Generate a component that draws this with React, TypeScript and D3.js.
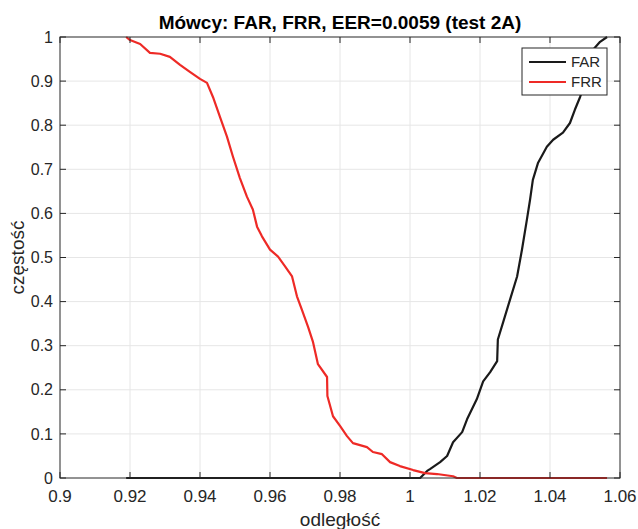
import * as d3 from 'd3';
import React, { useEffect, useRef } from 'react';

// FRR curve (odległość, częstość)
const frrX = [0.9189, 0.92, 0.9229, 0.9257, 0.9286, 0.9314, 0.9343, 0.9371, 0.94, 0.942, 0.9437, 0.9457, 0.9477, 0.9494, 0.9514, 0.9534, 0.9551, 0.9563, 0.9577, 0.96, 0.9623, 0.9643, 0.9663, 0.9677, 0.9691, 0.9709, 0.9723, 0.9737, 0.9763, 0.9764, 0.978, 0.98, 0.982, 0.9837, 0.9877, 0.9894, 0.992, 0.9943, 0.9971, 1.0009, 1.0043, 1.0077, 1.0123, 1.0134, 1.0563];
const frrY = [1.0, 0.993, 0.984, 0.964, 0.962, 0.955, 0.937, 0.921, 0.905, 0.896, 0.864, 0.819, 0.774, 0.729, 0.68, 0.638, 0.609, 0.57, 0.548, 0.518, 0.502, 0.48, 0.457, 0.412, 0.382, 0.342, 0.308, 0.258, 0.229, 0.186, 0.14, 0.118, 0.095, 0.079, 0.07, 0.059, 0.054, 0.036, 0.027, 0.018, 0.011, 0.009, 0.004, 0, 0];

// FAR curve
const farX = [0.9189, 1.0029, 1.0049, 1.0057, 1.0086, 1.0106, 1.0123, 1.0149, 1.0163, 1.0191, 1.0209, 1.0229, 1.0249, 1.0251, 1.0266, 1.0286, 1.0306, 1.032, 1.0334, 1.0343, 1.0351, 1.0366, 1.0391, 1.0409, 1.0437, 1.0457, 1.0471, 1.0486, 1.0506, 1.0523, 1.0543, 1.0563];
const farY = [0, 0, 0.016, 0.02, 0.036, 0.05, 0.081, 0.104, 0.133, 0.179, 0.219, 0.24, 0.265, 0.314, 0.353, 0.405, 0.457, 0.518, 0.586, 0.631, 0.676, 0.715, 0.751, 0.767, 0.783, 0.805, 0.835, 0.864, 0.91, 0.971, 0.989, 1.0];

const xTicks = [0.9, 0.92, 0.94, 0.96, 0.98, 1, 1.02, 1.04, 1.06];
const yTicks = [0, 0.1, 0.2, 0.3, 0.4, 0.5, 0.6, 0.7, 0.8, 0.9, 1];

const series = [
    { name: 'FAR', xs: farX, ys: farY, color: '#1a1a1a' },
    { name: 'FRR', xs: frrX, ys: frrY, color: '#ee2a26' },
];

const App = () => {
    const ref = useRef(null);

    useEffect(() => {
        const svg = d3.select(ref.current);
        svg.selectAll('*').remove();

        const left = 60, right = 620, top = 37, bottom = 478;
        const font = "'Liberation Sans', Arial, Helvetica, sans-serif";
        const axisColor = '#262626';

        const x = d3.scaleLinear().domain([0.9, 1.06]).range([left, right]);
        const y = d3.scaleLinear().domain([0, 1]).range([bottom, top]);

        svg.append('rect')
            .attr('x', left).attr('y', top)
            .attr('width', right - left).attr('height', bottom - top)
            .attr('fill', '#fff');

        // grid
        const grid = svg.append('g').attr('stroke', '#e6e6e6').attr('stroke-width', 1);
        xTicks.slice(1, -1).forEach(t => {
            grid.append('line').attr('x1', x(t)).attr('x2', x(t)).attr('y1', top).attr('y2', bottom);
        });
        yTicks.slice(1, -1).forEach(t => {
            grid.append('line').attr('x1', left).attr('x2', right).attr('y1', y(t)).attr('y2', y(t));
        });

        // curves
        const line = d3.line().x(d => x(d[0])).y(d => y(d[1]));
        series.forEach(s => {
            svg.append('path')
                .datum(s.xs.map((v, i) => [v, s.ys[i]]))
                .attr('d', line)
                .attr('fill', 'none')
                .attr('stroke', s.color)
                .attr('stroke-width', 2.2)
                .attr('stroke-linejoin', 'round');
        });

        // box and ticks
        svg.append('rect')
            .attr('x', left).attr('y', top)
            .attr('width', right - left).attr('height', bottom - top)
            .attr('fill', 'none').attr('stroke', axisColor).attr('stroke-width', 1);

        const tl = 6;
        const ticks = svg.append('g').attr('stroke', axisColor).attr('stroke-width', 1);
        xTicks.forEach(t => {
            ticks.append('line').attr('x1', x(t)).attr('x2', x(t)).attr('y1', bottom).attr('y2', bottom - tl);
            ticks.append('line').attr('x1', x(t)).attr('x2', x(t)).attr('y1', top).attr('y2', top + tl);
        });
        yTicks.forEach(t => {
            ticks.append('line').attr('x1', left).attr('x2', left + tl).attr('y1', y(t)).attr('y2', y(t));
            ticks.append('line').attr('x1', right).attr('x2', right - tl).attr('y1', y(t)).attr('y2', y(t));
        });

        const fmt = d3.format('~g');
        svg.append('g').selectAll('text').data(xTicks).enter().append('text')
            .attr('x', d => x(d)).attr('y', bottom + 24)
            .attr('text-anchor', 'middle')
            .attr('font-family', font).attr('font-size', 17).attr('fill', axisColor)
            .text(d => fmt(d));
        svg.append('g').selectAll('text').data(yTicks).enter().append('text')
            .attr('x', left - 7).attr('y', d => y(d)).attr('dy', '0.35em')
            .attr('text-anchor', 'end')
            .attr('font-family', font).attr('font-size', 16).attr('fill', axisColor)
            .text(d => fmt(d));

        svg.append('text')
            .attr('x', (left + right) / 2).attr('y', 29)
            .attr('text-anchor', 'middle')
            .attr('font-family', font).attr('font-size', 19).attr('font-weight', 'bold')
            .attr('fill', '#000')
            .text('Mówcy: FAR, FRR, EER=0.0059 (test 2A)');

        svg.append('text')
            .attr('x', (left + right) / 2).attr('y', 526)
            .attr('text-anchor', 'middle')
            .attr('font-family', font).attr('font-size', 19).attr('fill', axisColor)
            .text('odległość');

        svg.append('text')
            .attr('transform', `translate(24, ${(top + bottom) / 2}) rotate(-90)`)
            .attr('text-anchor', 'middle')
            .attr('font-family', font).attr('font-size', 19).attr('fill', axisColor)
            .text('częstość');

        // legend
        const legend = svg.append('g');
        legend.append('rect')
            .attr('x', 522).attr('y', 48).attr('width', 85).attr('height', 47)
            .attr('fill', '#fff').attr('stroke', axisColor).attr('stroke-width', 1);
        series.forEach((s, i) => {
            const ly = 62 + i * 20;
            legend.append('line')
                .attr('x1', 529).attr('x2', 566).attr('y1', ly).attr('y2', ly)
                .attr('stroke', s.color).attr('stroke-width', 2.2);
            legend.append('text')
                .attr('x', 571).attr('y', ly).attr('dy', '0.36em')
                .attr('font-family', font).attr('font-size', 15).attr('fill', axisColor)
                .text(s.name);
        });
    }, []);

    return (
        <svg ref={ref} width={638} height={529}
            style={{ position: 'absolute', left: 0, top: 0, background: '#fff' }} />
    );
};

export default App;
